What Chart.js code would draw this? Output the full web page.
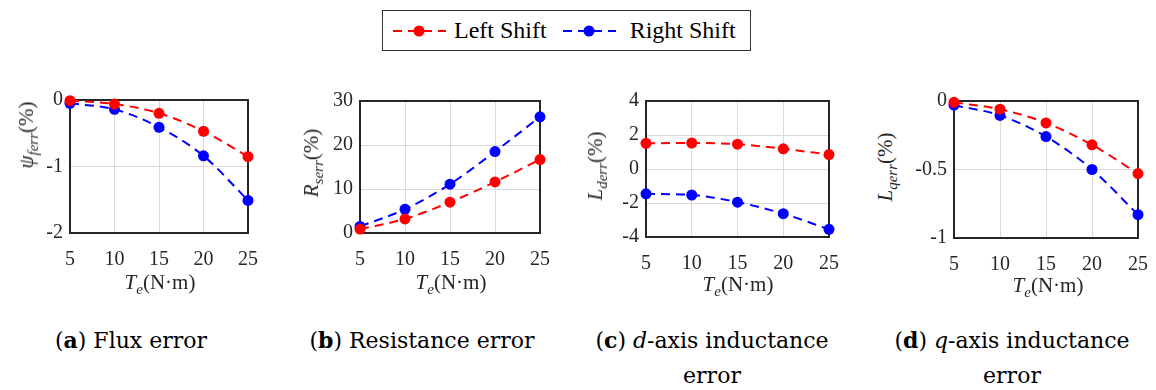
<!DOCTYPE html>
<html>
<head>
<meta charset="utf-8">
<script src="https://cdn.jsdelivr.net/npm/chart.js@4/dist/chart.umd.min.js"></script>
<style>
  body { margin: 0; width: 1156px; height: 390px; background: #fff; position: relative; overflow: hidden; font-family: "Liberation Serif", serif; color: #000; }
  canvas { position: absolute; }
  .ylab, .xlab, .cap { position: absolute; white-space: nowrap; }
  .ylab { transform: translate(-50%, -50%) rotate(-90deg); font-size: 21px; color: #262626; }
  .xlab { transform: translate(-50%, -50%); font-size: 21px; color: #262626; }
  .cap { transform: translate(-50%, -50%); font-family: "DejaVu Serif", serif; font-size: 22px; }
  sub { font-size: 15px; vertical-align: -5px; }
  #legend { position: absolute; left: 382px; top: 10px; width: 367px; height: 39px; border: 1px solid #333; display: flex; align-items: center; font-size: 24px; color: #000; }
  #legend svg { margin-left: 8px; margin-right: 8px; }
</style>
</head>
<body>
<div id="legend">
  <svg width="55" height="20"><line x1="0" y1="10" x2="55" y2="10" stroke="#ff0000" stroke-width="2" stroke-dasharray="9,6" stroke-dashoffset="-2"/><circle cx="28" cy="10" r="5.5" fill="#ff0000"/></svg><span>Left Shift</span>
  <svg width="55" height="20" style="margin-left:14px; margin-right:14px"><line x1="0" y1="10" x2="55" y2="10" stroke="#0000ff" stroke-width="2" stroke-dasharray="9,6" stroke-dashoffset="-2"/><circle cx="28" cy="10" r="5.5" fill="#0000ff"/></svg><span>Right Shift</span>
</div>

<canvas id="c1"></canvas>
<canvas id="c2"></canvas>
<canvas id="c3"></canvas>
<canvas id="c4"></canvas>

<div class="ylab" style="left:28px; top:135px;"><i>ψ</i><sub><i>ferr</i></sub>(%)</div>
<div class="ylab" style="left:313px; top:163px;"><i>R</i><sub><i>serr</i></sub>(%)</div>
<div class="ylab" style="left:597px; top:166px;"><i>L</i><sub><i>derr</i></sub>(%)</div>
<div class="ylab" style="left:887px; top:167px;"><i>L</i><sub><i>qerr</i></sub>(%)</div>

<div class="xlab" style="left:160px; top:284px;"><i>T</i><sub><i>e</i></sub>(N·m)</div>
<div class="xlab" style="left:451px; top:284px;"><i>T</i><sub><i>e</i></sub>(N·m)</div>
<div class="xlab" style="left:738px; top:286px;"><i>T</i><sub><i>e</i></sub>(N·m)</div>
<div class="xlab" style="left:1048px; top:287px;"><i>T</i><sub><i>e</i></sub>(N·m)</div>

<div class="cap" style="left:131px; top:340px;">(<b>a</b>) Flux error</div>
<div class="cap" style="left:422px; top:340px;">(<b>b</b>) Resistance error</div>
<div class="cap" style="left:712px; top:340px;">(<b>c</b>) <i>d</i>-axis inductance</div>
<div class="cap" style="left:712px; top:375px;">error</div>
<div class="cap" style="left:1012px; top:340px;">(<b>d</b>) <i>q</i>-axis inductance</div>
<div class="cap" style="left:1012px; top:375px;">error</div>

<script>
// torque points (N·m)
const torque = [5, 10, 15, 20, 25];

// (a) flux error %
const fluxLeft = [-0.01, -0.06, -0.2, -0.47, -0.85];
const fluxRight = [-0.05, -0.14, -0.41, -0.84, -1.51];
// (b) resistance error %
const resLeft = [0.9, 3.2, 7.0, 11.6, 16.7];
const resRight = [1.5, 5.4, 11.1, 18.5, 26.4];
// (c) d-axis inductance error %
const ldLeft = [1.51, 1.53, 1.46, 1.19, 0.85];
const ldRight = [-1.46, -1.53, -1.95, -2.63, -3.55];
// (d) q-axis inductance error %
const lqLeft = [-0.01, -0.06, -0.16, -0.32, -0.53];
const lqRight = [-0.03, -0.105, -0.26, -0.50, -0.83];

const seriesNames = ["Left Shift", "Right Shift"];
const seriesColors = ["#ff0000", "#0000ff"];

const yAxisW = 50, xAxisH = 42, padTop = 14, padRight = 22;

const framePlugin = {
  id: "frame",
  beforeDatasetsDraw(chart) {
    const { ctx, chartArea: a } = chart;
    ctx.save();
    ctx.strokeStyle = "#262626";
    ctx.lineWidth = 2;
    ctx.strokeRect(a.left, a.top, a.right - a.left, a.bottom - a.top);
    ctx.restore();
  }
};

function toPoints(vals) {
  return vals.map((v, i) => ({ x: torque[i], y: v }));
}

function makePlot(id, area, yMin, yMax, yStep, left, right) {
  const cv = document.getElementById(id);
  const w = area.w + yAxisW + padRight;
  const h = area.h + padTop + xAxisH;
  cv.width = w;
  cv.height = h;
  cv.style.left = (area.x - yAxisW) + "px";
  cv.style.top = (area.y - padTop) + "px";

  const datasets = [left, right].map((vals, k) => ({
    label: seriesNames[k],
    data: toPoints(vals),
    borderColor: seriesColors[k],
    backgroundColor: seriesColors[k],
    pointBackgroundColor: seriesColors[k],
    pointBorderWidth: 0,
    pointRadius: 5.5,
    borderWidth: 2,
    borderDash: [9, 6],
    cubicInterpolationMode: "monotone",
    clip: false
  }));

  const tickFont = { family: "Liberation Serif", size: 20 };

  new Chart(cv.getContext("2d"), {
    type: "line",
    data: { datasets: datasets },
    options: {
      responsive: false,
      animation: false,
      devicePixelRatio: 1,
      layout: { padding: { top: padTop, right: padRight, left: 0, bottom: 0 } },
      plugins: { legend: { display: false }, tooltip: { enabled: false } },
      scales: {
        x: {
          type: "linear",
          min: 5, max: 25,
          ticks: { stepSize: 5, color: "#262626", font: tickFont, padding: 15, maxRotation: 0 },
          grid: { color: "#dadada", lineWidth: 1, drawTicks: false },
          border: { display: false },
          afterFit: s => { s.height = xAxisH; }
        },
        y: {
          min: yMin, max: yMax,
          ticks: { stepSize: yStep, color: "#262626", font: tickFont, padding: 7, callback: v => String(v) },
          grid: { color: "#dadada", lineWidth: 1, drawTicks: false },
          border: { display: false },
          afterFit: s => { s.width = yAxisW; }
        }
      }
    },
    plugins: [framePlugin]
  });
}

makePlot("c1", { x: 70, y: 95, w: 181, h: 138 }, -2, 0, 1, fluxLeft, fluxRight);
makePlot("c2", { x: 360, y: 96, w: 183, h: 137 }, 0, 30, 10, resLeft, resRight);
makePlot("c3", { x: 646, y: 96, w: 186, h: 141 }, -4, 4, 2, ldLeft, ldRight);
makePlot("c4", { x: 954, y: 96, w: 187, h: 142 }, -1, 0, 0.5, lqLeft, lqRight);
</script>
</body>
</html>
